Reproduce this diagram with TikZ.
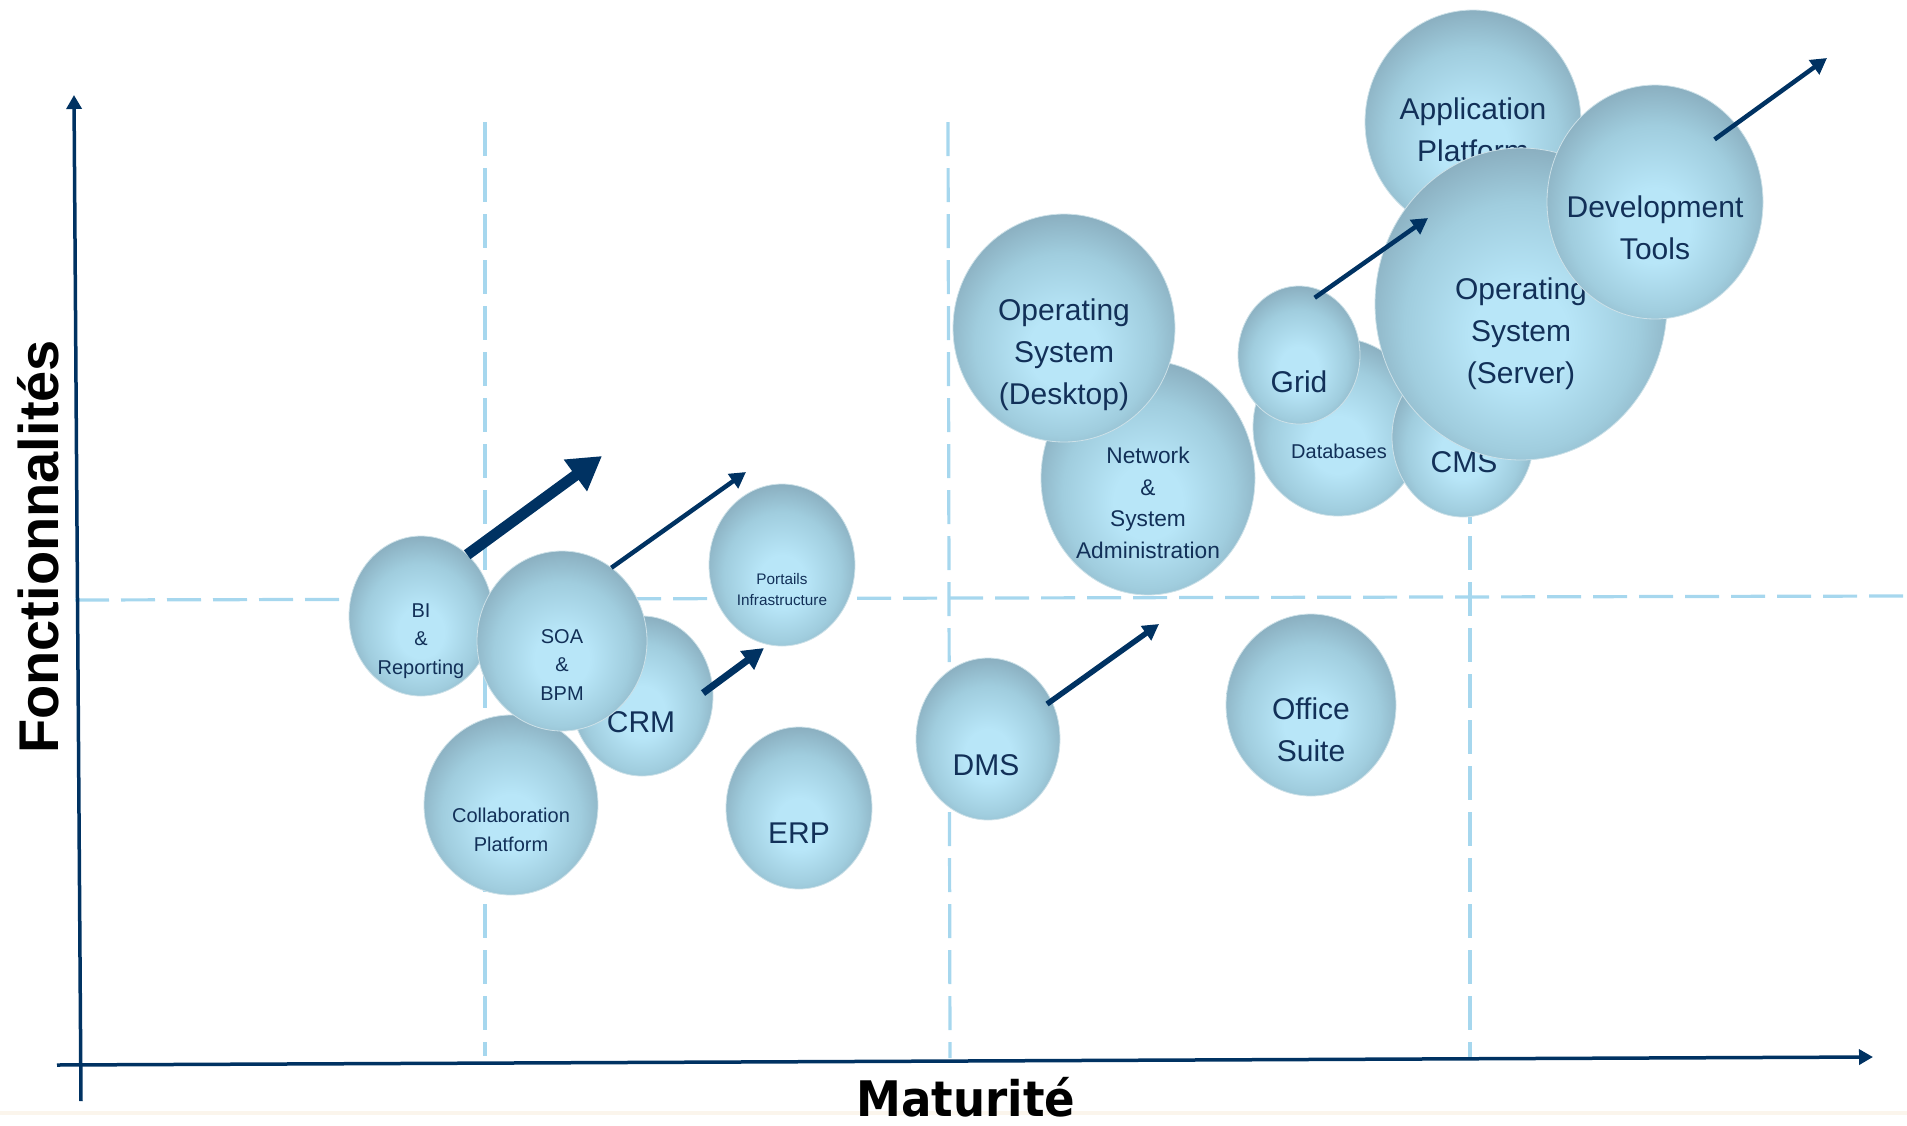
\documentclass[tikz,border=0pt]{standalone}
\usepackage{fontspec}
\setmainfont{Liberation Sans}
\newfontfamily\matfont{DejaVu Sans}
\usepackage{graphicx}
\usetikzlibrary{arrows.meta,shapes.geometric}
\definecolor{navy}{RGB}{0,50,98}
\definecolor{txtblue}{RGB}{18,48,88}
\definecolor{gridblue}{RGB}{166,215,238}
\definecolor{bubLight}{RGB}{184,230,248}
\definecolor{bubMid}{RGB}{160,205,222}
\definecolor{bubDark}{RGB}{132,166,183}
\definecolor{bubEdge}{RGB}{205,225,232}
\definecolor{beige}{RGB}{251,245,236}
\pgfdeclareradialshading{bubshade}{\pgfpoint{0bp}{-6bp}}{color(0bp)=(bubLight); color(8bp)=(bubLight); color(20bp)=(bubMid); color(30bp)=(bubDark); color(50bp)=(bubDark)}
\begin{document}
\begin{tikzpicture}[x=1pt,y=-1pt,
  bubble/.style={ellipse, shading=bubshade, draw=bubEdge, line width=0.8pt, inner sep=0pt, outer sep=0pt},
  btext/.style={text=txtblue, align=center, inner sep=0pt},
  fbig/.style={font=\fontsize{30}{42}\selectfont},
  fmid/.style={font=\fontsize{22.7}{31.6}\selectfont},
  fsmall/.style={font=\fontsize{20}{28.5}\selectfont},
  ftiny/.style={font=\fontsize{15.3}{21}\selectfont},
  gridline/.style={draw=gridblue, line width=3.2pt, dash pattern=on 34pt off 12pt},
  axisline/.style={draw=navy, line width=3.5pt, -{Triangle[length=14pt,width=15pt]}},
  trend/.style={draw=navy, line width=4.5pt, -{Triangle[length=16pt,width=17pt]}},
  trendmid/.style={draw=navy, line width=7pt, -{Triangle[length=21pt,width=22pt]}},
  trendbig/.style={draw=navy, line width=11pt, -{Triangle[length=33pt,width=37pt]}}
]
\useasboundingbox (0,0) rectangle (1907,1125);
\fill[beige] (0,1111) rectangle (1907,1115);

% grid lines
\coordinate (h1a) at (75,600);   \coordinate (h1b) at (1907,596);
\coordinate (v1a) at (485,122);  \coordinate (v1b) at (485,1056);
\coordinate (v2a) at (948,122);  \coordinate (v2b) at (950,1058);
\coordinate (v3a) at (1470,122); \coordinate (v3b) at (1470,1058);
\draw[gridline] (h1a) -- (h1b);
\draw[gridline] (v1a) -- (v1b);
\draw[gridline] (v2a) -- (v2b);
\draw[gridline] (v3a) -- (v3b);

% axes
\coordinate (yb) at (81,1101); \coordinate (yt) at (74,95);
\coordinate (xl) at (57,1065); \coordinate (xr) at (1873,1057);
\draw[axisline] (yb) -- (yt);
\draw[axisline] (xl) -- (xr);

% bubbles (back to front)
\node[bubble, minimum width=142pt, minimum height=160pt] (crm) at (642,696) {};
\node[btext, fbig] (crmt) at (641,722) {CRM};
\node[bubble, minimum width=174pt, minimum height=180pt] (collab) at (511,805) {};
\node[btext, fsmall] (collabt) at (511,830) {Collaboration\\Platform};
\node[bubble, minimum width=144pt, minimum height=160pt] (bi) at (421,616) {};
\node[btext, fsmall] (bit) at (421,641) {BI\\\&\\Reporting};
\node[bubble, minimum width=170pt, minimum height=180pt] (soa) at (562,641) {};
\node[btext, fsmall] (soat) at (562,665) {SOA\\\&\\BPM};
\node[bubble, minimum width=146pt, minimum height=162pt] (port) at (782,565) {};
\node[btext, ftiny] (portt) at (782,590) {Portails\\Infrastructure};
\node[bubble, minimum width=146pt, minimum height=162pt] (erp) at (799,808) {};
\node[btext, fbig] (erpt) at (799,833) {ERP};
\node[bubble, minimum width=144pt, minimum height=162pt] (dms) at (988,739) {};
\node[btext, fbig] (dmst) at (986,765) {DMS};
\node[bubble, minimum width=170pt, minimum height=182pt] (office) at (1311,705) {};
\node[btext, fbig] (officet) at (1311,730) {Office\\Suite};
\node[bubble, minimum width=214pt, minimum height=234pt] (net) at (1148,478) {};
\node[btext, fmid] (nett) at (1148,503) {Network\\\&\\System\\Administration};
\node[bubble, minimum width=222pt, minimum height=228pt] (desk) at (1064,328) {};
\node[btext, fbig] (deskt) at (1064,355) {Operating\\System\\(Desktop)};
\node[bubble, minimum width=170pt, minimum height=178pt] (db) at (1338,427) {};
\node[btext, fsmall] (dbt) at (1339,451) {Databases};
\node[bubble, minimum width=122pt, minimum height=138pt] (grid) at (1299,355) {};
\node[btext, fbig] (gridt) at (1299,382) {Grid};
\node[bubble, minimum width=142pt, minimum height=160pt] (cms) at (1463,437) {};
\node[btext, fbig] (cmst) at (1464,462) {CMS};
\node[bubble, minimum width=216pt, minimum height=224pt] (app) at (1473,122) {};
\node[btext, fbig] (appt) at (1473,130) {Application\\Platform};
\node[bubble, minimum width=292pt, minimum height=312pt] (srv) at (1521,304) {};
\node[btext, fbig] (srvt) at (1521,334) {Operating\\System\\(Server)};
\node[bubble, minimum width=216pt, minimum height=234pt] (dev) at (1655,202) {};
\node[btext, fbig] (devt) at (1655,228) {Development\\Tools};

% trend arrows
\coordinate (biTip) at (602,456);
\coordinate (soaTip) at (746,472);
\coordinate (crmTip) at (764,648);
\coordinate (dmsTip) at (1159,624);
\coordinate (gridTip) at (1428,218);
\coordinate (devTip) at (1827,58);
\draw[trendbig] (bi.53) -- (biTip);
\draw[trend] (soa.56) -- (soaTip);
\draw[trendmid, shorten <=-11.7pt] (crm.8) -- (crmTip);
\draw[trend, line width=5.5pt, shorten <=-5.5pt] (dms.31) -- (dmsTip);
\draw[trend, shorten <=-10.5pt] (grid.69) -- (gridTip);
\draw[trend, shorten <=-26pt] (dev.44) -- (devTip);

% axis labels
\node[rotate=90, inner sep=0pt, font=\fontsize{56}{60}\selectfont\bfseries] (ylab) at (38,547) {Fonctionnalités};
\node[anchor=base, inner sep=0pt, font=\matfont\fontsize{49}{53}\selectfont\bfseries] (xlab) at (966,1116) {\scalebox{0.92}[1]{Maturité}};
\end{tikzpicture}
\end{document}
